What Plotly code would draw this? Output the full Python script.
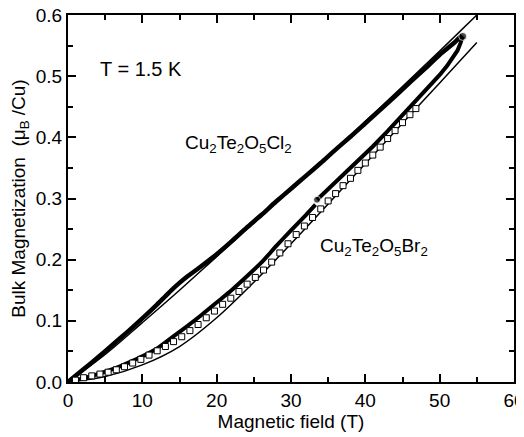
import plotly.graph_objects as go

# Cu2Te2O5Cl2 measured (thick)
cl_x = [0, 2, 4, 6, 8, 10, 12, 13, 14, 15, 16, 18, 20, 22, 24, 26, 28, 30, 32, 34, 36, 38, 40, 42, 44, 46, 48, 50, 52, 53]
cl_y = [0, 0.02, 0.04, 0.061, 0.082, 0.104, 0.127, 0.139, 0.151, 0.162, 0.172, 0.19, 0.209, 0.23, 0.252, 0.273, 0.295, 0.316,
        0.337, 0.358, 0.38, 0.401, 0.423, 0.445, 0.467, 0.49, 0.512, 0.535, 0.555, 0.567]

# Cu2Te2O5Cl2 model (thin)
clfit_x = [0, 5, 10, 15, 20, 25, 30, 35, 40, 45, 50, 55]
clfit_y = [0, 0.045, 0.097, 0.150, 0.205, 0.26, 0.315, 0.37, 0.426, 0.483, 0.541, 0.6]

# Cu2Te2O5Br2 measured (thick), two sweeps
br1_x = [0, 2, 4, 6, 8, 10, 12, 14, 16, 18, 20, 22, 24, 26, 28, 30, 32, 33.3]
br1_y = [0, 0.006, 0.013, 0.021, 0.031, 0.042, 0.055, 0.073, 0.091, 0.110, 0.130, 0.150, 0.172, 0.195, 0.222, 0.248, 0.273, 0.290]
br2_x = [33.5, 35, 37, 39, 41, 43, 45, 47, 49, 50, 51, 51.8, 52.4, 52.8, 53.1]
br2_y = [0.298, 0.315, 0.338, 0.362, 0.385, 0.41, 0.436, 0.462, 0.487, 0.502, 0.517, 0.530, 0.542, 0.554, 0.565]

# Cu2Te2O5Br2 model (thin)
brfit_x = [0, 5, 10, 15, 20, 25, 30, 35, 40, 45, 50, 55]
brfit_y = [0, 0.009, 0.028, 0.058, 0.105, 0.163, 0.226, 0.291, 0.357, 0.423, 0.489, 0.555]

# Cu2Te2O5Br2 open squares
sq_x = [1.0, 2.1, 3.2, 4.3, 5.4, 6.5, 7.6, 8.7, 9.8, 10.9, 12.0, 13.1, 14.2, 15.3, 16.4, 17.5, 18.6, 19.7, 20.8, 21.9,
        23.0, 24.1, 25.2, 26.3, 27.4, 28.5, 29.6, 30.7, 31.8, 32.9, 34.0, 35.0, 36.0, 37.0, 38.0, 39.0, 40.0, 41.0,
        42.0, 43.0, 44.0, 45.0, 46.0, 46.8]
sq_y = [0.003, 0.007, 0.010, 0.013, 0.016, 0.020, 0.025, 0.031, 0.037, 0.044, 0.051, 0.058, 0.066, 0.074, 0.084, 0.094,
        0.105, 0.116, 0.127, 0.137, 0.148, 0.160, 0.171, 0.183, 0.196, 0.211, 0.226, 0.241, 0.255, 0.269, 0.283, 0.296,
        0.308, 0.321, 0.333, 0.346, 0.358, 0.371, 0.384, 0.398, 0.411, 0.424, 0.437, 0.447]

FONT = "Liberation Sans, Arial, sans-serif"
FS = 19

fig = go.Figure()
fig.add_trace(go.Scatter(x=cl_x, y=cl_y, mode="lines", line=dict(color="black", width=4.5, shape="spline", smoothing=0.6), showlegend=False))
fig.add_trace(go.Scatter(x=br1_x, y=br1_y, mode="lines", line=dict(color="black", width=4, shape="spline", smoothing=0.6), showlegend=False))
fig.add_trace(go.Scatter(x=br2_x, y=br2_y, mode="lines+markers", line=dict(color="black", width=4),
                         marker=dict(size=[7] + [0] * (len(br2_x) - 2) + [8], color="black"), showlegend=False))
fig.add_trace(go.Scatter(x=clfit_x, y=clfit_y, mode="lines", line=dict(color="black", width=1.5, shape="spline"), showlegend=False))
fig.add_trace(go.Scatter(x=brfit_x, y=brfit_y, mode="lines", line=dict(color="black", width=1.5, shape="spline"), showlegend=False))
fig.add_trace(go.Scatter(x=sq_x, y=sq_y, mode="markers",
                         marker=dict(symbol="square", size=6, color="white", line=dict(color="black", width=1)),
                         showlegend=False))

fig.add_annotation(x=9.8, y=0.512, text="T = 1.5 K", showarrow=False, font=dict(size=20, color="black", family=FONT))
fig.add_annotation(x=22.9, y=0.389, text="Cu<sub>2</sub>Te<sub>2</sub>O<sub>5</sub>Cl<sub>2</sub>", showarrow=False,
                   font=dict(size=FS, color="black", family=FONT))
fig.add_annotation(x=41.1, y=0.221, text="Cu<sub>2</sub>Te<sub>2</sub>O<sub>5</sub>Br<sub>2</sub>", showarrow=False,
                   font=dict(size=FS, color="black", family=FONT))

axis_common = dict(showline=True, linecolor="black", linewidth=2, mirror="ticks", ticks="inside", ticklen=8,
                   tickwidth=1.5, tickcolor="black", showgrid=False, zeroline=False, automargin=False,
                   ticklabeloverflow="allow",
                   tickfont=dict(size=FS, color="black", family=FONT))

fig.update_xaxes(range=[0, 60], dtick=10, title=dict(text="Magnetic field (T)", font=dict(size=FS, color="black", family=FONT), standoff=1),
                 minor=dict(ticks="inside", ticklen=5, dtick=5, tickcolor="black", tickwidth=1.5), **axis_common)
fig.update_yaxes(range=[0, 0.6], dtick=0.1, tickformat=".1f",
                 title=dict(text="Bulk Magnetization  (\u03bc<sub>B</sub> /Cu)", font=dict(size=FS, color="black", family=FONT), standoff=7),
                 minor=dict(ticks="inside", ticklen=5, dtick=0.05, tickcolor="black", tickwidth=1.5), **axis_common)

# page body adds an 8px offset; figure is sized so the plot area lands at the reference position
fig.update_layout(width=516, height=429, margin=dict(l=60, r=10, t=7, b=55),
                  plot_bgcolor="white", paper_bgcolor="white", font=dict(family=FONT, color="black"))

fig.write_html("out.html")
